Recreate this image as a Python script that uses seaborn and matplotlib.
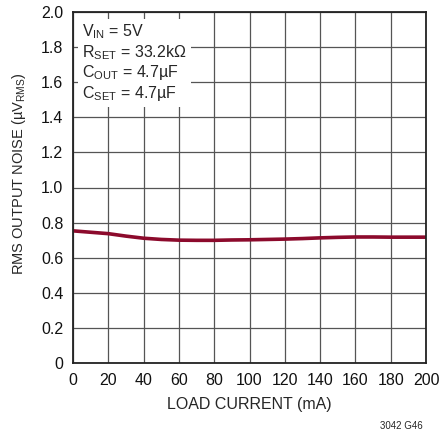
import matplotlib
matplotlib.use("Agg")
import matplotlib.pyplot as plt
import seaborn as sns
import pandas as pd

load_current = [0, 10, 20, 30, 40, 50, 60, 70, 80, 90, 100, 110, 120, 130, 140, 150, 160, 170, 180, 190, 200]
noise = [0.753, 0.745, 0.737, 0.723, 0.711, 0.704, 0.700, 0.699, 0.699, 0.701, 0.702, 0.704, 0.706, 0.709, 0.713, 0.716, 0.718, 0.718, 0.717, 0.717, 0.717]
x_ticks = [0, 20, 40, 60, 80, 100, 120, 140, 160, 180, 200]
y_ticks = [0, 0.2, 0.4, 0.6, 0.8, 1.0, 1.2, 1.4, 1.6, 1.8, 2.0]
y_tick_labels = ["0", "0.2", "0.4", "0.6", "0.8", "1.0", "1.2", "1.4", "1.6", "1.8", "2.0"]

sns.set_style("white")
plt.rcParams["font.family"] = ["Liberation Sans", "DejaVu Sans"]
plt.rcParams["mathtext.fontset"] = "custom"
plt.rcParams["mathtext.rm"] = "Liberation Sans"
plt.rcParams["mathtext.it"] = "Liberation Sans"
plt.rcParams["mathtext.default"] = "rm"

df = pd.DataFrame({"x": load_current, "y": noise})

fig = plt.figure(figsize=(4.41, 4.33), dpi=100)
ax = fig.add_axes([73/441, 1-363/433, (426-73)/441, (363-12)/433])

sns.lineplot(data=df, x="x", y="y", ax=ax, color="#8c0a2c", linewidth=2.6)

ax.set_xlim(0, 200)
ax.set_ylim(0, 2.0)
ax.set_xticks(x_ticks)
ax.set_xticklabels([str(t) for t in x_ticks])
ax.set_yticks(y_ticks)
ax.set_yticklabels(y_tick_labels)
ax.grid(True, color="#555555", linewidth=0.9)
ax.set_axisbelow(True)
for s in ax.spines.values():
    s.set_color("#222222")
    s.set_linewidth(1.3)
ax.tick_params(axis="both", length=0, labelsize=11.5, pad=7, colors="#111111")

ax.set_xlabel("LOAD CURRENT (mA)", fontsize=11.5)
ax.xaxis.set_label_coords(0.5, -0.097)
ax.set_ylabel(r"RMS OUTPUT NOISE (µV$_{\mathrm{RMS}}$)", fontsize=10.5)
ax.yaxis.set_label_coords(-0.128, 0.54)

txt = (r"V$_{\mathrm{IN}}$ = 5V" "\n"
       r"R$_{\mathrm{SET}}$ = 33.2kΩ" "\n"
       r"C$_{\mathrm{OUT}}$ = 4.7µF" "\n"
       r"C$_{\mathrm{SET}}$ = 4.7µF")
ax.text(0.025, 0.97, txt, transform=ax.transAxes, ha="left", va="top",
        fontsize=11.5, linespacing=1.12,
        bbox=dict(facecolor="white", edgecolor="none", pad=3))

fig.text(401/441, 1-426/433, "3042 G46", fontsize=7, ha="center", va="center")

fig.savefig("out.png", dpi=100)
